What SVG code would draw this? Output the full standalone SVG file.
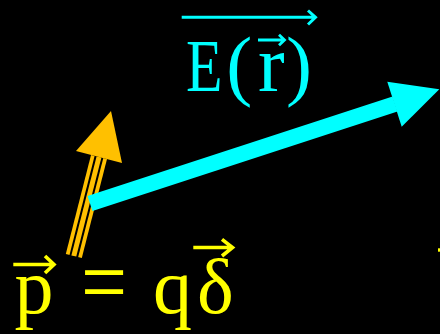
<svg xmlns="http://www.w3.org/2000/svg" width="440" height="334" viewBox="0 0 440 334">
<style>
.cy{fill:#00FFFF;font-family:"Liberation Serif","Times New Roman",serif}
.ye{fill:#FFFF00;font-family:"Liberation Serif","Times New Roman",serif}
.vc{fill:none;stroke-linecap:butt;stroke-linejoin:miter}
</style>
<rect x="0" y="0" width="440" height="334" fill="#000"/>
<g id="connectors">
<g id="dipole-arrow">
<line x1="73.8" y1="256" x2="99" y2="157" stroke="#FFC000" stroke-width="16.5"/>
<line x1="73.6" y1="257" x2="99.2" y2="156" stroke="#000" stroke-width="9"/>
<line x1="73.8" y1="256" x2="99" y2="157" stroke="#FFC000" stroke-width="5"/>
<polygon points="111,111 76,151 122,163" fill="#FFC000"/>
</g>
<g id="field-arrow">
<line x1="90" y1="203.5" x2="395" y2="104" stroke="#00FFFF" stroke-width="16"/>
<polygon points="439.3,89.3 387.3,81.7 401.7,126.7" fill="#00FFFF"/>
</g>
</g>
<g id="label-E">
<text class="cy" font-size="73" transform="translate(186,90.5) scale(0.82,1)">E</text>
<text class="cy" font-size="78" x="226.3" y="91">(</text>
<text class="cy" font-size="80" x="258" y="91">r</text>
<text class="cy" font-size="78" x="286" y="91">)</text>
<path class="vc" stroke="#00FFFF" stroke-width="3" d="M181.7,17.3 H315 M308,10.5 L315.5,17.3 L308,24.5"/>
<path class="vc" stroke="#00FFFF" stroke-width="2.8" d="M258,40 H284 M279,34.8 L284.5,40 L279,45.2"/>
</g>
<g id="label-p">
<text class="ye" font-size="78" x="14.6" y="313">p</text>
<text class="ye" font-size="95" transform="translate(81,313.6) scale(0.86,1)">=</text>
<text class="ye" font-size="78" x="153" y="313">q</text>
<text class="ye" font-size="78" x="197" y="313">δ</text>
<path class="vc" stroke="#FFFF00" stroke-width="3.6" d="M13.3,264.5 H53.5 M45,256 L54,264.5 L45,273"/>
<path class="vc" stroke="#FFFF00" stroke-width="3.6" d="M193.3,247.5 H232 M222,239.3 L232.5,247.5 L222,256"/>
</g>
<rect x="438" y="248.3" width="2" height="3.4" fill="#FFFF00"/>
</svg>
